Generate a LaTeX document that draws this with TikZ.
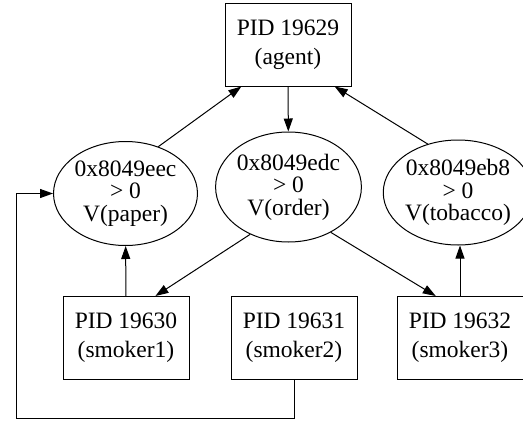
\documentclass[tikz,border=0pt]{standalone}
\usepackage{fontspec}
\setmainfont{Liberation Serif}
\usetikzlibrary{arrows.meta,shapes.geometric}

\begin{document}
\begin{tikzpicture}[x=1pt,y=-1pt,line width=1pt,
	>={Triangle[length=13pt,width=9pt]},
	pid/.style={rectangle,draw,minimum width=126pt,minimum height=83pt,inner sep=0pt,align=center,font=\fontsize{23.5}{29}\selectfont},
	sem/.style={ellipse,draw,inner sep=0pt,align=center,font=\fontsize{23.5}{22.5}\selectfont}]
	\useasboundingbox (0,0) rectangle (523,421);
	\node[pid] (Agent) at (288,44.5) {PID 19629\\(agent)};
	\node[sem,minimum width=135pt,minimum height=104pt] (Paper) at (125.5,193.5) {0x8049eec\\> 0\\V(paper)};
	\node[sem,minimum width=133pt,minimum height=110pt] (Order) at (288.5,187) {0x8049edc\\> 0\\V(order)};
	\node[sem,minimum width=132pt,minimum height=105pt] (Tobacco) at (458,192.5) {0x8049eb8\\> 0\\V(tobacco)};
	\node[pid] (Smoker1) at (126,338) {PID 19630\\(smoker1)};
	\node[pid] (Smoker2) at (294,338) {PID 19631\\(smoker2)};
	\node[pid] (Smoker3) at (460,338) {PID 19632\\(smoker3)};
	\coordinate (LoopCorner) at (16,418);
	% draw the line
	\draw[->] (Paper.55)    -- (Agent.222);
	\draw[->] (Agent)       -- (Order);
	\draw[->] (Tobacco.122) -- (Agent.318);
	\draw[->] (Smoker1)     -- (Paper);
	\draw[->] (Order.231)   -- (Smoker1.55);
	\draw[->] (Order.313)   -- (Smoker3.120);
	\draw[->] (Smoker3.north) -- (Smoker3.north |- Tobacco.south);
	\draw[->] (Smoker2.south) |- (LoopCorner) |- (Paper.west);
\end{tikzpicture}
\end{document}
